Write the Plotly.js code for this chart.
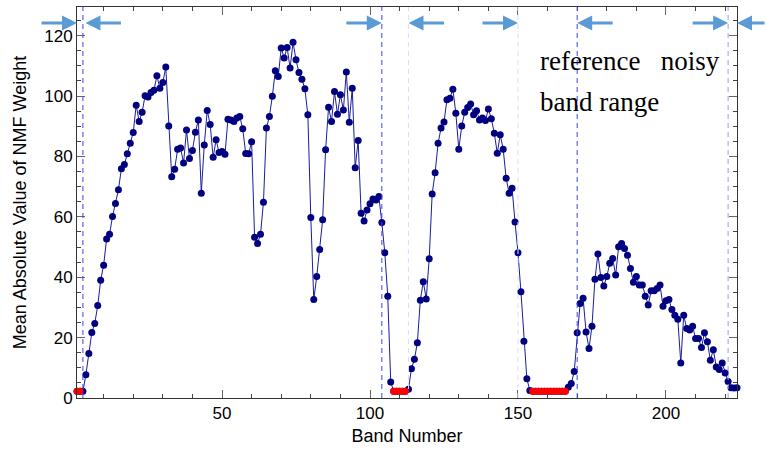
<!DOCTYPE html>
<html>
<head>
<meta charset="utf-8">
<script src="https://cdn.plot.ly/plotly-3.0.1.min.js"></script>
<style>html,body{margin:0;padding:0;background:#fff;}#chart{width:766px;height:450px;}</style>
</head>
<body>
<div id="chart"></div>
<script>
// ---- data ----
const bandCount = 224;
const weights = [
  2.2, 2.2, 2.2, 7.7, 14.7, 21.7, 24.7, 30.6, 39.0, 44.0,
  52.7, 54.2, 60.1, 64.4, 69.0, 75.9, 77.3, 80.9, 84.4, 87.9,
  97.0, 91.6, 94.6, 100.1, 99.7, 101.2, 101.9, 106.7, 102.6, 104.5,
  109.6, 90.1, 73.3, 75.8, 82.4, 82.8, 77.8, 88.8, 79.3, 82.0,
  88.0, 92.1, 67.8, 83.8, 95.2, 90.6, 79.7, 85.5, 81.3, 81.6,
  80.7, 92.3, 92.1, 91.6, 92.7, 93.2, 89.2, 81.0, 80.9, 84.9,
  53.2, 51.2, 54.2, 64.8, 89.4, 93.2, 99.9, 108.4, 106.5, 115.9,
  112.6, 116.1, 109.3, 117.8, 112.0, 107.8, 105.6, 102.4, 93.8, 59.8,
  32.6, 40.2, 49.2, 59.0, 82.2, 96.3, 91.6, 101.5, 94.0, 100.4,
  95.4, 108.0, 91.3, 102.6, 76.3, 85.3, 61.2, 58.6, 62.3, 64.3,
  65.9, 65.6, 66.7, 58.1, 48.1, 33.7, 5.3, 2.2, 2.2, 2.2,
  2.2, 2.2, 2.9, 9.7, 12.8, 18.3, 32.4, 38.5, 32.8, 46.1,
  67.6, 74.6, 84.4, 89.4, 91.4, 98.8, 99.3, 102.3, 94.3, 82.4,
  90.1, 94.6, 96.2, 97.4, 93.8, 95.1, 92.1, 92.7, 91.9, 95.7,
  92.5, 87.7, 81.1, 87.2, 82.4, 72.8, 67.8, 69.5, 58.3, 48.1,
  35.2, 18.8, 6.4, 2.5, 2.2, 2.2, 2.2, 2.2, 2.2, 2.2,
  2.2, 2.2, 2.2, 2.2, 2.2, 2.2, 3.6, 4.8, 8.8, 21.6,
  31.3, 33.0, 21.9, 16.4, 23.8, 39.3, 47.7, 39.9, 37.1, 40.2,
  44.6, 46.2, 40.7, 50.1, 51.2, 49.5, 47.3, 42.9, 38.3, 40.2,
  37.4, 37.4, 33.7, 30.8, 35.5, 35.5, 36.3, 37.4, 30.4, 32.2,
  32.6, 29.3, 27.4, 26.1, 11.6, 27.4, 23.0, 22.5, 23.8, 19.7,
  19.7, 16.7, 21.6, 18.6, 12.5, 16.0, 10.3, 9.4, 11.6, 8.3,
  5.5, 3.4, 3.3, 3.4
];
const noisyBands = [1, 2, 108, 109, 110, 111, 112,
  155, 156, 157, 158, 159, 160, 161, 162, 163, 164, 165, 166];
const refRangeStart = [1, 104, 150, 221];
const refRangeEnd = [3, 113, 170, 224];
const xTickVals = [50, 100, 150, 200];
const yTickVals = [0, 20, 40, 60, 80, 100, 120];
const noteLines = ['reference\u00a0\u00a0\u00a0noisy', 'band range'];
const xTitle = 'Band Number';
const yTitle = 'Mean Absolute Value of NMF Weight';

// ---- build traces ----
const bands = weights.map((_, i) => i + 1);
const noisyY = noisyBands.map(b => weights[b - 1]);

const mainTrace = {
  x: bands, y: weights, type: 'scatter', mode: 'lines+markers',
  line: {color: '#1c1c9c', width: 1},
  marker: {color: '#000080', size: 7},
  hoverinfo: 'x+y', showlegend: false, cliponaxis: false
};
const noisyTrace = {
  x: noisyBands, y: noisyY, type: 'scatter', mode: 'markers',
  marker: {color: '#ff0000', size: 7},
  showlegend: false, cliponaxis: false
};

// ---- dashed boundary lines ----
const lineStyle = {3: '#4040f0', 104: '#4040f0', 113: '#dcdcfc', 150: '#dcdcfc', 170: '#4040f0', 221: '#9c9cf8'};
const boundaries = [];
refRangeStart.forEach(b => { if (b !== 1) boundaries.push(b); });
refRangeEnd.forEach(b => { if (b !== bandCount) boundaries.push(b); });
const shapes = boundaries.map(b => ({
  type: 'line', xref: 'x', yref: 'paper', x0: b, x1: b, y0: 0, y1: 1,
  line: {color: lineStyle[b] || '#4040f0', width: 1, dash: '5px,4px'},
  layer: 'above'
}));

// ---- arrows at range boundaries ----
const arrowY = 0.959;
const arrows = [];
refRangeStart.forEach(b => arrows.push({
  x: b, y: arrowY, xref: 'x', yref: 'paper', text: '', showarrow: true,
  ax: -37, ay: 0, arrowhead: 2, arrowsize: 1, arrowwidth: 3, arrowcolor: '#5b9bd5', standoff: 0
}));
refRangeEnd.forEach(b => arrows.push({
  x: b, y: arrowY, xref: 'x', yref: 'paper', text: '', showarrow: true,
  xshift: (b === 3 ? 2.5 : 0),
  ax: 37, ay: 0, arrowhead: 2, arrowsize: 1, arrowwidth: 3, arrowcolor: '#5b9bd5', standoff: 0
}));

const notes = noteLines.map((t, i) => ({
  x: 0.699, y: [0.8614, 0.7578][i], xref: 'paper', yref: 'paper',
  xanchor: 'left', yanchor: 'middle', showarrow: false, text: t,
  font: {family: '"Liberation Serif", "Times New Roman", serif', size: 27, color: '#000'}
}));

const axisCommon = {
  showline: true, linecolor: '#333', linewidth: 1, mirror: 'allticks',
  ticks: 'inside', ticklen: 8, tickwidth: 1, tickcolor: '#666',
  showgrid: false, zeroline: false, fixedrange: true,
  tickfont: {size: 17, color: '#000'}
};

const layout = {
  width: 766, height: 450,
  margin: {l: 77, r: 29, t: 7, b: 52, pad: 0},
  paper_bgcolor: '#fff', plot_bgcolor: '#fff',
  font: {family: '"Liberation Sans", Arial, Helvetica, sans-serif', size: 17, color: '#000'},
  showlegend: false,
  xaxis: Object.assign({}, axisCommon, {
    range: [1, bandCount], tickmode: 'array', tickvals: xTickVals, ticktext: xTickVals.map(String),
    minor: {tick0: 0, dtick: 10, ticks: 'inside', ticklen: 4, tickcolor: '#444', showgrid: false},
    title: {text: xTitle, font: {size: 18}, standoff: 6}
  }),
  yaxis: Object.assign({}, axisCommon, {
    range: [0, 129.5], tickmode: 'array', tickvals: yTickVals, ticktext: yTickVals.map(String),
    minor: {tick0: 0, dtick: 5, ticks: 'inside', ticklen: 4, tickcolor: '#444', showgrid: false},
    title: {text: yTitle, font: {size: 18}, standoff: 12}
  }),
  shapes: shapes,
  annotations: arrows.concat(notes)
};

Plotly.newPlot('chart', [mainTrace, noisyTrace], layout, {displayModeBar: false, staticPlot: true});
</script>
</body>
</html>
